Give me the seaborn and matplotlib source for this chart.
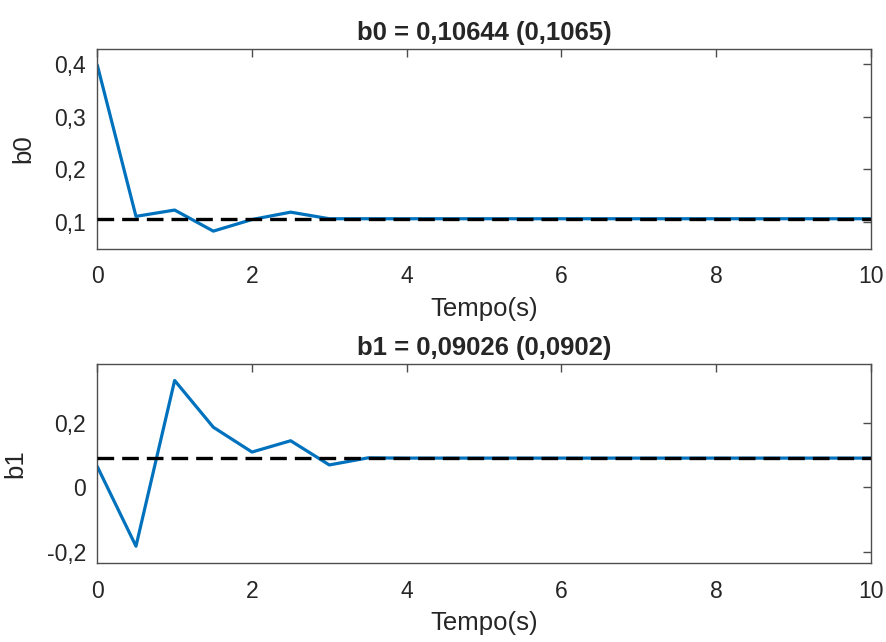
import numpy as np
import pandas as pd
import matplotlib
matplotlib.use("Agg")
import matplotlib.pyplot as plt
import seaborn as sns

# Sampled time instants (s)
tempo = [0.0, 0.5, 1.0, 1.5, 2.0, 2.5, 3.0, 3.5, 4.0, 4.5, 5.0, 5.5, 6.0,
         6.5, 7.0, 7.5, 8.0, 8.5, 9.0, 9.5, 10.0]

# Estimated parameter b0 over time
b0_est = [0.398, 0.111, 0.123, 0.083, 0.105, 0.119, 0.1065, 0.1065, 0.1065,
          0.1065, 0.1065, 0.1065, 0.1065, 0.1065, 0.1065, 0.1065, 0.1065,
          0.1065, 0.1065, 0.1065, 0.1065]
b0_ref = 0.1065

# Estimated parameter b1 over time
b1_est = [0.064, -0.183, 0.331, 0.186, 0.109, 0.144, 0.069, 0.091, 0.0902,
          0.0902, 0.0902, 0.0902, 0.0902, 0.0902, 0.0902, 0.0902, 0.0902,
          0.0902, 0.0902, 0.0902, 0.0902]
b1_ref = 0.0902

titles = ["b0 = 0,10644 (0,1065)", "b1 = 0,09026 (0,0902)"]
ylabels = ["b0", "b1"]
xticks = [0, 2, 4, 6, 8, 10]
yticks_top = [0.1, 0.2, 0.3, 0.4]
yticks_bot = [-0.2, 0.0, 0.2]

sns.set_theme(style="white")
plt.rcParams["font.family"] = ["Liberation Sans", "DejaVu Sans"]
plt.rcParams["axes.edgecolor"] = "#4d4d4d"
plt.rcParams["xtick.color"] = "#4d4d4d"
plt.rcParams["ytick.color"] = "#4d4d4d"
plt.rcParams["text.color"] = "#262626"

fig = plt.figure(figsize=(8.87, 6.42), dpi=100)
ax_top = fig.add_axes([0.1097, 0.6129, 0.9816 - 0.1097, 0.9232 - 0.6129])
ax_bot = fig.add_axes([0.1097, 0.1226, 0.9816 - 0.1097, 0.4325 - 0.1226])

blue = "#0072BD"
panels = [
    (ax_top, b0_est, b0_ref, (0.05, 0.428), yticks_top),
    (ax_bot, b1_est, b1_ref, (-0.236, 0.381), yticks_bot),
]

def fmt(v):
    return f"{v:g}".replace(".", ",")

for i, (ax, est, ref, ylim, yt) in enumerate(panels):
    df = pd.DataFrame({"Tempo": tempo, "valor": est})
    sns.lineplot(data=df, x="Tempo", y="valor", ax=ax, color=blue,
                 linewidth=2.3, zorder=2)
    ax.plot([tempo[0], tempo[-1]], [ref, ref], color="black",
            linewidth=2.4, dashes=(5.0, 2.4), zorder=3)
    ax.set_xlim(0, 10)
    ax.set_ylim(*ylim)
    ax.set_xticks(xticks)
    ax.set_xticklabels([str(t) for t in xticks])
    ax.set_yticks(yt)
    ax.set_yticklabels([fmt(v) for v in yt])
    ax.tick_params(direction="in", length=6, width=1.0, labelsize=16.5,
                   top=True, right=True, labelcolor="#262626")
    ax.tick_params(axis="x", pad=12)
    ax.tick_params(axis="y", pad=8)
    for sp in ax.spines.values():
        sp.set_visible(True)
        sp.set_linewidth(1.0)
    ax.set_xlabel("Tempo(s)", fontsize=18.5, labelpad=6)
    ax.set_ylabel(ylabels[i], fontsize=18.5, labelpad=14)
    ax.set_title(titles[i], fontsize=18.5, fontweight="bold", pad=7)

fig.savefig("out.png", dpi=100)
